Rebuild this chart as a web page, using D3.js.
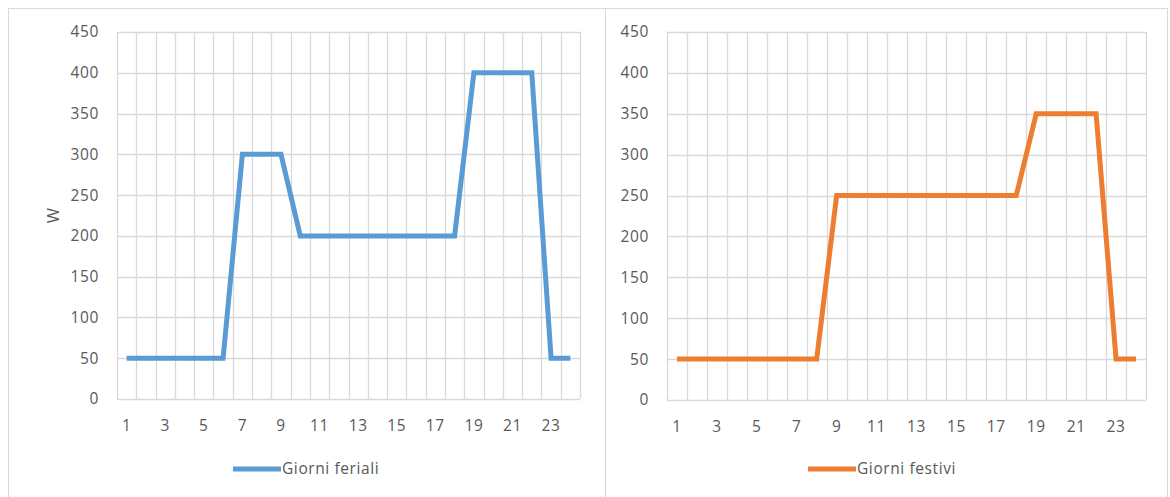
<!DOCTYPE html>
<html><head><meta charset="utf-8">
<script src="https://cdn.jsdelivr.net/npm/d3@7"></script>
<style>body{margin:0;background:#fff;}svg{display:block;font-family:"Open Sans","Liberation Sans",sans-serif;}</style>
</head><body><svg id="c" width="1170" height="497"></svg>
<script>
const hours = d3.range(1, 25);
const feriali = [50,50,50,50,50,50,300,300,300,200,200,200,200,200,200,200,200,200,400,400,400,400,50,50];
const festivi = [50,50,50,50,50,50,50,50,250,250,250,250,250,250,250,250,250,250,350,350,350,350,50,50];
const yTicks = [0,50,100,150,200,250,300,350,400,450];
const xLabels = hours.filter(h => h % 2 === 1);

const svg = d3.select("#c");
const grid = "#d9d9d9", txt = "#595959";
const fs = 15.5, ls = 0.6;

// panel borders
svg.append("rect").attr("x",8.5).attr("y",8.5).attr("width",597).attr("height",500).attr("fill","none").attr("stroke",grid);
svg.append("rect").attr("x",605.5).attr("y",8.5).attr("width",562).attr("height",500).attr("fill","none").attr("stroke",grid);

function panel(cfg){
  const x = d3.scaleBand().domain(hours).range([cfg.x0, cfg.x1]);
  const y = d3.scaleLinear().domain([0,450]).range([cfg.yb, cfg.yt]);
  const g = svg.append("g");
  g.selectAll(".hg").data(yTicks).join("line")
    .attr("x1",cfg.x0).attr("x2",cfg.x1)
    .attr("y1",d=>Math.round(y(d))+0.5).attr("y2",d=>Math.round(y(d))+0.5)
    .attr("stroke",grid).attr("stroke-width",1.3);
  const bounds = hours.map(h=>x(h)).concat([cfg.x1]);
  g.selectAll(".vg").data(bounds).join("line")
    .attr("x1",d=>Math.round(d)+0.5).attr("x2",d=>Math.round(d)+0.5)
    .attr("y1",cfg.yt).attr("y2",cfg.yb)
    .attr("stroke",grid).attr("stroke-width",1.3);
  g.selectAll(".yl").data(yTicks).join("text")
    .attr("x",cfg.x0-18).attr("y",d=>y(d)).attr("dy","0.35em")
    .attr("text-anchor","end").attr("fill",txt).attr("font-size",fs).attr("letter-spacing",ls).text(d=>d);
  g.selectAll(".xl").data(xLabels).join("text")
    .attr("x",d=>x(d)+x.bandwidth()/2).attr("y",cfg.yb+27).attr("dy","0.35em")
    .attr("text-anchor","middle").attr("fill",txt).attr("font-size",fs).attr("letter-spacing",ls).text(d=>d);
  const line = d3.line().x((d,i)=>x(hours[i])+x.bandwidth()/2).y(d=>y(d));
  g.append("path").datum(cfg.data).attr("d",line).attr("fill","none")
    .attr("stroke",cfg.color).attr("stroke-width",5).attr("stroke-linejoin","miter");
  g.append("line").attr("x1",cfg.lx).attr("x2",cfg.lx+48).attr("y1",469).attr("y2",469)
    .attr("stroke",cfg.color).attr("stroke-width",5);
  g.append("text").attr("x",cfg.lx+49).attr("y",469).attr("dy","0.35em")
    .attr("fill",txt).attr("font-size",fs).attr("letter-spacing",ls).text(cfg.name);
  if(cfg.title){
    g.append("text").attr("transform",`translate(53,${(cfg.yt+cfg.yb)/2}) rotate(-90)`)
      .attr("dy","0.35em").attr("text-anchor","middle").attr("fill",txt).attr("font-size",fs+1).text(cfg.title);
  }
}

panel({x0:117,x1:580,yt:32,yb:399,data:feriali,color:"#5B9BD5",name:"Giorni feriali",lx:233,title:"W"});
panel({x0:667,x1:1146,yt:32,yb:400,data:festivi,color:"#ED7D31",name:"Giorni festivi",lx:808});
</script></body></html>
